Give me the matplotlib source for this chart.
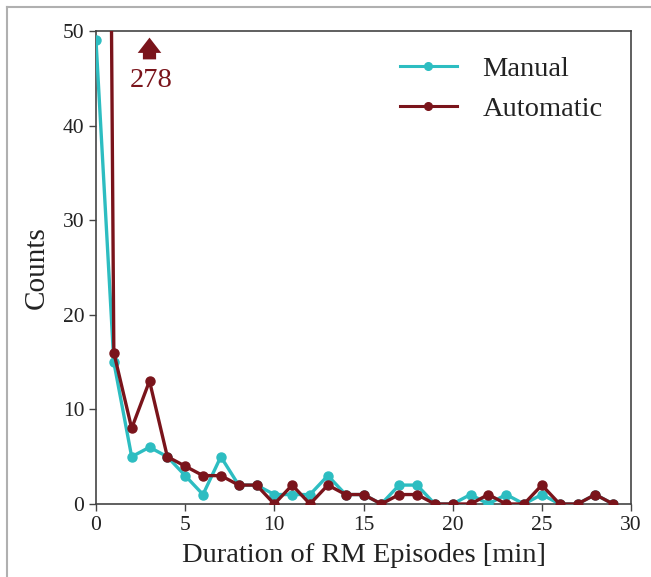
import matplotlib
matplotlib.use("Agg")
import matplotlib.pyplot as plt
from matplotlib.lines import Line2D

durations = list(range(30))
manual = [49, 15, 5, 6, 5, 3, 1, 5, 2, 2, 1, 1, 1, 3, 1, 1, 0, 2, 2, 0, 0, 1, 0, 1, 0, 1, 0, 0, 1, 0]
automatic = [278, 16, 8, 13, 5, 4, 3, 3, 2, 2, 0, 2, 0, 2, 1, 1, 0, 1, 1, 0, 0, 0, 1, 0, 0, 2, 0, 0, 1, 0]
series_labels = ["Manual", "Automatic"]
overflow_label = "278"
overflow_x = 3

teal = "#2DBDC1"
darkred = "#7A141B"

plt.rcParams['font.family'] = ['Liberation Serif', 'DejaVu Serif']

fig = plt.figure(figsize=(6.51, 5.77), dpi=100)
ax = fig.add_axes([96/651, 1-504/577, (631-96)/651, (504-31)/577])

ax.plot(durations, manual, color=teal, lw=2.4, marker='o', ms=6.5, label=series_labels[0], zorder=3)
ax.plot(durations, automatic, color=darkred, lw=2.4, marker='o', ms=6.5, label=series_labels[1], zorder=4)

ax.set_xlim(0, 30)
ax.set_ylim(0, 50)
ax.set_xticks(range(0, 31, 5))
ax.set_yticks(range(0, 51, 10))
ax.tick_params(labelsize=15.5, color='#444444', length=5, width=1, labelcolor='#222222')
for s in ax.spines.values():
    s.set_color('#444444')
    s.set_linewidth(1.2)

ax.set_xlabel("Duration of RM Episodes [min]", fontsize=20.5, color='#222222', labelpad=6)
ax.set_ylabel("Counts", fontsize=21, color='#222222')
ax.yaxis.set_label_coords(-0.086, 0.5)

# overflow arrow for off-scale value
ax.annotate('', xy=(overflow_x, 49.3), xytext=(overflow_x, 47.0),
            arrowprops=dict(arrowstyle='simple,head_width=1.7,head_length=1.1,tail_width=0.95',
                            color=darkred, lw=0, shrinkA=0, shrinkB=0))
ax.text(overflow_x + 0.1, 44.8, overflow_label, color=darkred, fontsize=20.5, ha='center', va='center')

handles = [Line2D([], [], color=teal, lw=2.2, marker='o', ms=5.5),
           Line2D([], [], color=darkred, lw=2.2, marker='o', ms=5.5)]
leg = ax.legend(handles, series_labels, loc='upper right', frameon=False, fontsize=20.5,
                handlelength=2.0, handletextpad=0.9, labelspacing=0.5,
                bbox_to_anchor=(0.995, 1.002))
for t in leg.get_texts():
    t.set_color('#222222')

# outer light frame (top and left)
fig.add_artist(Line2D([7/651, 1], [1-7/577, 1-7/577], color='#b0b0b0', lw=1.5, transform=fig.transFigure))
fig.add_artist(Line2D([7/651, 7/651], [0, 1-7/577], color='#b0b0b0', lw=1.5, transform=fig.transFigure))

fig.savefig("out.png", dpi=100)
